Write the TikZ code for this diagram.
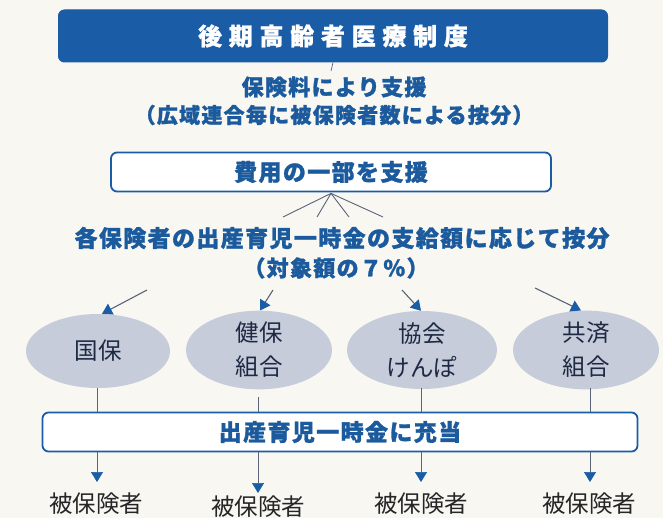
\documentclass[tikz,border=0pt]{standalone}
\usepackage{fontspec}
\setmainfont{Noto Sans CJK JP}
\newfontfamily\ttlfont{Noto Sans CJK JP}[LetterSpace=28, BoldFeatures={FakeBold=1}]
\newfontfamily\lblfont{Noto Sans CJK JP}[LetterSpace=6, BoldFeatures={FakeBold=1.2}]
\usetikzlibrary{arrows.meta,shapes.geometric}
\definecolor{paper}{HTML}{F8F7F2}
\definecolor{navy}{HTML}{1A5CA6}
\definecolor{btext}{HTML}{1B5A9C}
\definecolor{ellfill}{HTML}{C6CCDA}
\definecolor{etext}{HTML}{1E2A44}
\definecolor{lgray}{HTML}{5A6478}
\tikzset{
  titlebox/.style={draw=navy, fill=navy, rounded corners=6pt, line width=1pt,
    minimum width=549pt, minimum height=52pt, text=white,
    font=\ttlfont\fontsize{24}{28}\selectfont\bfseries},
  flowbox/.style={draw=navy, fill=white, rounded corners=6pt, line width=1.8pt,
    minimum height=39pt, text=btext, font=\lblfont\fontsize{23}{27}\selectfont\bfseries},
  bluelbl/.style={text=btext, font=\lblfont\fontsize{22}{26}\selectfont\bfseries, inner sep=0pt},
  insurer/.style={ellipse, fill=ellfill, minimum width=146pt, minimum height=74pt,
    text=etext, align=center, font=\fontsize{23.5}{34}\selectfont, inner sep=0pt},
  person/.style={text=black!85, font=\fontsize{23.5}{28}\selectfont, inner sep=0pt},
  thinline/.style={draw=lgray, line width=0.7pt},
  tipline/.style={draw=lgray, line width=1.1pt, -{Triangle[length=10pt,width=12pt,color=navy]}},
  tiponly/.style={draw=lgray, line width=0.7pt, -{Triangle[length=10pt,width=12pt,color=navy]}},
}
\begin{document}
\begin{tikzpicture}[x=1pt,y=-1pt]
\fill[paper] (0,0) rectangle (663,518);
\useasboundingbox (0,0) rectangle (663,518);

% top box
\node[titlebox] (top) at (333,36) {後期高齢者医療制度};
\node[bluelbl] (t1) at (334,87) {保険料により支援};
\node[bluelbl, font=\lblfont\fontsize{21}{25}\selectfont\bfseries] (t2) at (334,115) {（広域連合毎に被保険者数による按分）};
\coordinate (stub) at (331,71);
\draw[thinline] (top.south) -- (stub);

% second box
\node[flowbox, minimum width=440pt] (mid) at (331,172) {費用の一部を支援};
\coordinate (inarrow) at (331,132);
\draw[tiponly, draw=none] (inarrow) -- (mid.north);

% fan
\coordinate (f1) at (283,217);
\coordinate (f2) at (317,217);
\coordinate (f3) at (349,217);
\coordinate (f4) at (383,217);
\foreach \f in {f1,f2,f3,f4} \draw[thinline, line width=0.9pt] ([yshift=-1pt]mid.south) -- (\f);

\node[bluelbl, font=\lblfont\fontsize{23}{27}\selectfont\bfseries] (t3) at (342,238) {各保険者の出産育児一時金の支給額に応じて按分};
\node[bluelbl] (t4) at (336,268) {（対象額の７％）};

% insurers
\node[insurer, minimum width=144pt] (e1) at (98,351) {国保};
\node[insurer] (e2) at (259,350) {健保\\組合};
\node[insurer, minimum width=150pt] (e3) at (422,350) {協会\\けんぽ};
\node[insurer] (e4) at (586,350) {共済\\組合};

\coordinate (s1) at (147,290);
\coordinate (s2) at (273,290);
\coordinate (s3) at (402,290);
\coordinate (s4) at (535,288);
\draw[tipline] (s1) -- ([xshift=4pt]e1.north);
\draw[tipline] (s2) -- ([xshift=1pt]e2.north);
\draw[tipline] (s3) -- ([xshift=-1pt]e3.north);
\draw[tipline] (s4) -- ([xshift=-5pt]e4.north);

% bottom box
\node[flowbox, minimum width=595pt] (bot) at (340,432) {出産育児一時金に充当};

\coordinate (v1) at (97,388);
\coordinate (v2) at (258,397);
\coordinate (v3) at (421,388);
\coordinate (v4) at (590,388);
\foreach \v in {v1,v2,v3,v4} \draw[thinline] (\v) -- (\v |- bot.north);

% insured persons
\node[person] (p1) at (96,504) {被保険者};
\node[person] (p2) at (258,506.5) {被保険者};
\node[person] (p3) at (421,504) {被保険者};
\node[person] (p4) at (589,504) {被保険者};

\coordinate (d1) at (97,482);
\coordinate (d2) at (258,493);
\coordinate (d3) at (421,482);
\coordinate (d4) at (590,482);
\foreach \d in {d1,d2,d3,d4} \draw[tiponly] (\d |- bot.south) -- (\d);
\end{tikzpicture}
\end{document}
